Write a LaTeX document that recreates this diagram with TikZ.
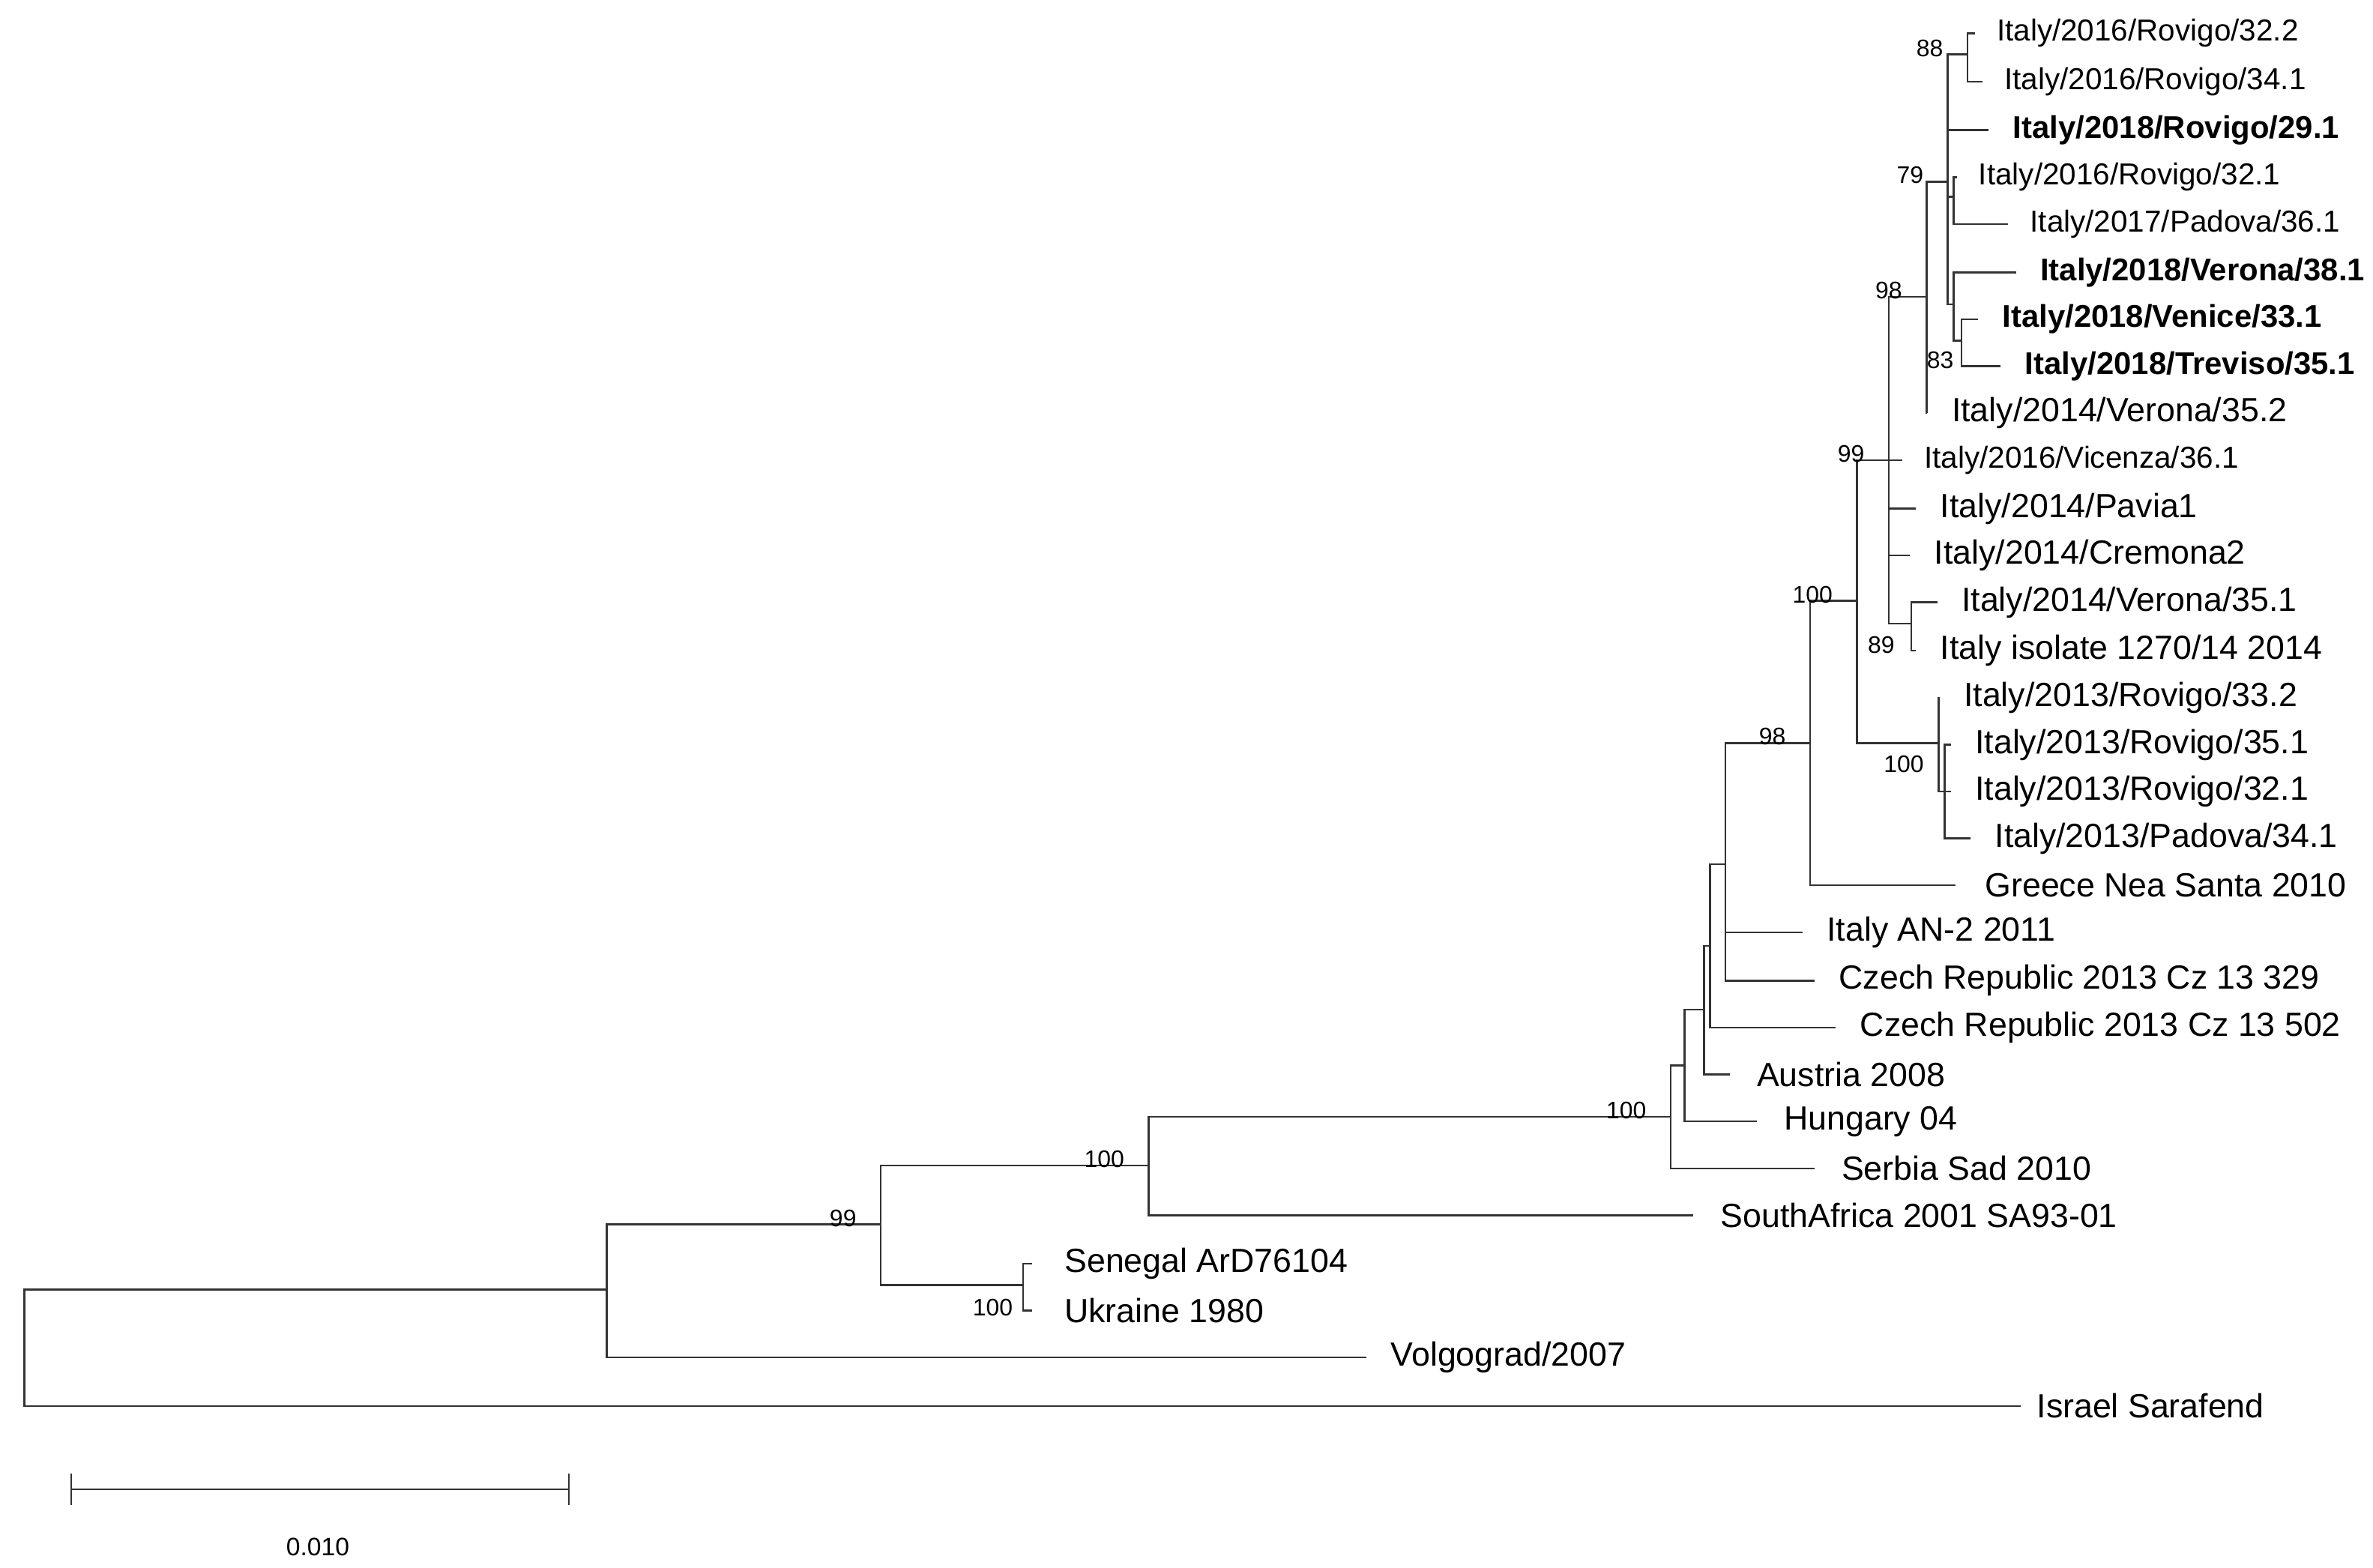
\documentclass[tikz,border=0pt]{standalone}
\usepackage{fontspec}
\setmainfont{Liberation Sans}
\begin{document}
\begin{tikzpicture}[x=0.02cm,y=-0.02cm,
  br/.style={line width=0.7pt,color=black!80},
  lab/.style={anchor=west,inner sep=0pt,font=\fontsize{12.6}{14}\selectfont},
  slab/.style={anchor=west,inner sep=0pt,font=\fontsize{11.4}{13}\selectfont},
  blab/.style={anchor=west,inner sep=0pt,font=\fontsize{11.8}{13}\selectfont\bfseries},
  bs/.style={inner sep=0pt,font=\fontsize{9}{10}\selectfont},
  bsa/.style={bs,anchor=south east}]
\useasboundingbox (0,0) rectangle (1568,1036);
% internal nodes
\coordinate (R) at (16,890);
\coordinate (A) at (401,852);
\coordinate (B) at (582,809);
\coordinate (C) at (759,770);
\coordinate (D) at (676,849);
\coordinate (E) at (1104,738);
\coordinate (N1) at (1113,704);
\coordinate (N2) at (1126,667);
\coordinate (N3) at (1130,625);
\coordinate (N4) at (1140,571);
\coordinate (F) at (1196,491);
\coordinate (G) at (1227,397);
\coordinate (H) at (1248,304);
\coordinate (J) at (1263,412);
\coordinate (K) at (1281,491);
\coordinate (L) at (1285,523);
\coordinate (I) at (1273,196);
\coordinate (M) at (1287,120);
\coordinate (P) at (1300,36);
\coordinate (Q) at (1291,130);
\coordinate (S) at (1291,201);
\coordinate (T) at (1296,225);
% tips
\coordinate (t1) at (1305,22);
\coordinate (t2) at (1310,54);
\coordinate (t3) at (1314,86);
\coordinate (t4) at (1293,117);
\coordinate (t5) at (1327,148);
\coordinate (t6) at (1332,180);
\coordinate (t7) at (1307,211);
\coordinate (t8) at (1322,242);
\coordinate (t9) at (1273.5,273);
\coordinate (t10) at (1257,304);
\coordinate (t11) at (1266,336);
\coordinate (t12) at (1262,367);
\coordinate (t13) at (1280,398);
\coordinate (t14) at (1266,430);
\coordinate (t15) at (1281.5,461);
\coordinate (t16) at (1289,492);
\coordinate (t17) at (1289,523);
\coordinate (t18) at (1302,554);
\coordinate (t19) at (1292,585);
\coordinate (t20) at (1191,616);
\coordinate (t21) at (1199,648);
\coordinate (t22) at (1213,679);
\coordinate (t23) at (1143,710);
\coordinate (t24) at (1161,741);
\coordinate (t25) at (1199,772);
\coordinate (t26) at (1119,803);
\coordinate (t27) at (682,835);
\coordinate (t28) at (682,866);
\coordinate (t29) at (903,897);
\coordinate (t30) at (1335,929);
% branches
\draw[br] (R) |- (A) (R) |- (t30);
\draw[br] (A) |- (B) (A) |- (t29);
\draw[br] (B) |- (C) (B) |- (D);
\draw[br] (D) |- (t27) (D) |- (t28);
\draw[br] (C) |- (E) (C) |- (t26);
\draw[br] (E) |- (N1) (E) |- (t25);
\draw[br] (N1) |- (N2) (N1) |- (t24);
\draw[br] (N2) |- (N3) (N2) |- (t23);
\draw[br] (N3) |- (N4) (N3) |- (t22);
\draw[br] (N4) |- (F) (N4) |- (t20) (N4) |- (t21);
\draw[br] (F) |- (G) (F) |- (t19);
\draw[br] (G) |- (H) (G) |- (K);
\draw[br] (K) |- (t15) (K) |- (L);
\draw[br] (L) |- (t16) (L) |- (t17) (L) |- (t18);
\draw[br] (H) |- (I) (H) |- (t10) (H) |- (t11) (H) |- (t12) (H) |- (J);
\draw[br] (J) |- (t13) (J) |- (t14);
\draw[br] (I) |- (M) (I) |- (t9);
\draw[br] (M) |- (P) (M) |- (t3) (M) |- (Q) (M) |- (S);
\draw[br] (P) |- (t1) (P) |- (t2);
\draw[br] (Q) |- (t4) (Q) |- (t5);
\draw[br] (S) |- (t6) (S) |- (T);
\draw[br] (T) |- (t7) (T) |- (t8);
% labels
\node[slab] (l1) at ([xshift=8]t1) {Italy/2016/Rovigo/32.2};
\node[slab] (l2) at ([xshift=8]t2) {Italy/2016/Rovigo/34.1};
\node[blab] (l3) at ([xshift=9]t3) {Italy/2018/Rovigo/29.1};
\node[slab] (l4) at ([xshift=8]t4) {Italy/2016/Rovigo/32.1};
\node[slab] (l5) at ([xshift=8]t5) {Italy/2017/Padova/36.1};
\node[blab] (l6) at ([xshift=9]t6) {Italy/2018/Verona/38.1};
\node[blab] (l7) at ([xshift=9]t7) {Italy/2018/Venice/33.1};
\node[blab] (l8) at ([xshift=9]t8) {Italy/2018/Treviso/35.1};
\node[lab] (l9) at ([xshift=9]t9) {Italy/2014/Verona/35.2};
\node[slab] (l10) at ([xshift=8]t10) {Italy/2016/Vicenza/36.1};
\node[lab] (l11) at ([xshift=9]t11) {Italy/2014/Pavia1};
\node[lab] (l12) at ([xshift=9]t12) {Italy/2014/Cremona2};
\node[lab] (l13) at ([xshift=9]t13) {Italy/2014/Verona/35.1};
\node[lab] (l14) at ([xshift=9]t14) {Italy isolate 1270/14 2014};
\node[lab] (l15) at ([xshift=9]t15) {Italy/2013/Rovigo/33.2};
\node[lab] (l16) at ([xshift=9]t16) {Italy/2013/Rovigo/35.1};
\node[lab] (l17) at ([xshift=9]t17) {Italy/2013/Rovigo/32.1};
\node[lab] (l18) at ([xshift=9]t18) {Italy/2013/Padova/34.1};
\node[lab] (l19) at ([xshift=11]t19) {Greece Nea Santa 2010};
\node[lab] (l20) at ([xshift=9]t20) {Italy AN-2 2011};
\node[lab] (l21) at ([xshift=9]t21) {Czech Republic 2013 Cz 13 329};
\node[lab] (l22) at ([xshift=9]t22) {Czech Republic 2013 Cz 13 502};
\node[lab] (l23) at ([xshift=10]t23) {Austria 2008};
\node[lab] (l24) at ([xshift=10]t24) {Hungary 04};
\node[lab] (l25) at ([xshift=10]t25) {Serbia Sad 2010};
\node[lab] (l26) at ([xshift=10]t26) {SouthAfrica 2001 SA93-01};
\node[lab] (l27) at ([xshift=12]t27) {Senegal ArD76104};
\node[lab] (l28) at ([xshift=12]t28) {Ukraine 1980};
\node[lab] (l29) at ([xshift=9]t29) {Volgograd/2007};
\node[lab] (l30) at ([xshift=6]t30) {Israel Sarafend};
% bootstrap values
\node[bsa] (bP) at ([xshift=-9,yshift=-1]P) {88};
\node[bsa] (bM) at ([xshift=-9,yshift=-1]M) {79};
\node[bsa] (bI) at ([xshift=-9,yshift=-1]I) {98};
\node[bs] (bT) at (1282,238) {83};
\node[bsa] (bH) at ([xshift=-9,yshift=-1]H) {99};
\node[bs] (bJ) at (1243,426) {89};
\node[bsa] (bG) at ([xshift=-9,yshift=-1]G) {100};
\node[bs] (bK) at (1258,505) {100};
\node[bsa] (bF) at ([xshift=-9,yshift=-1]F) {98};
\node[bsa] (bE) at ([xshift=-9,yshift=-1]E) {100};
\node[bsa] (bC) at ([xshift=-9,yshift=-1]C) {100};
\node[bsa] (bB) at ([xshift=-9,yshift=-1]B) {99};
\node[bs] (bD) at (656,864) {100};
% scale bar
\coordinate (s1) at (47,984);
\coordinate (s2) at (376,984);
\draw[br] (s1) -- (s2);
\draw[br] ([yshift=-6]s1) -- ([yshift=6]s1);
\draw[br] ([yshift=-6]s2) -- ([yshift=6]s2);
\node[bs,font=\fontsize{9.5}{11}\selectfont] (sl) at (210,1022) {0.010};
\end{tikzpicture}
\end{document}
